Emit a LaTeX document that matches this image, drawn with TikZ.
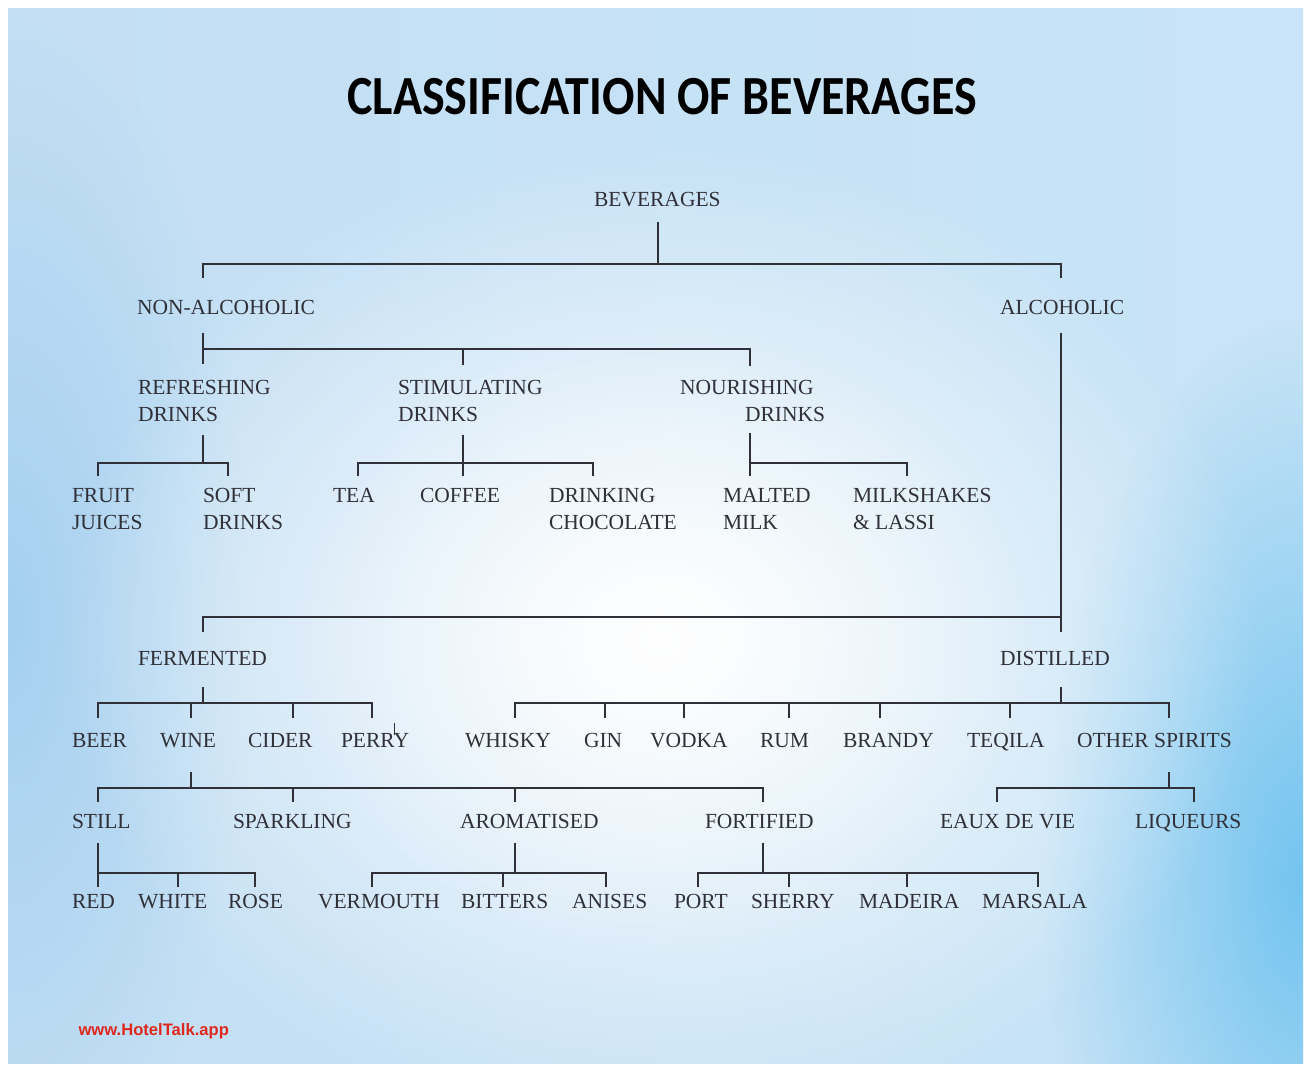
\documentclass[tikz,border=0pt]{standalone}
\usepackage{fontspec}
\setmainfont{Liberation Serif}
\newfontfamily\titlefont{Carlito}
\newfontfamily\webfont{Liberation Sans}
\usetikzlibrary{positioning}
\usetikzlibrary{fadings}

\definecolor{ink}{RGB}{48,48,56}
\definecolor{edgeblue}{RGB}{196,223,244}
\definecolor{midblue}{RGB}{234,243,251}
\definecolor{rightblue}{RGB}{200,228,246}
\definecolor{leftband}{RGB}{165,208,240}
\definecolor{rightband}{RGB}{115,196,240}
\definecolor{webred}{RGB}{222,40,30}

\tikzfading[name=glow, inner color=transparent!0, outer color=transparent!100]

\tikzset{
  label/.style={anchor=north west, inner sep=0pt, outer sep=0pt, align=left,
    text=ink, font=\fontsize{21.5}{27}\selectfont},
  link/.style={draw=ink, line width=1.8pt}
}

\begin{document}
\begin{tikzpicture}[x=1pt,y=-1pt]
            % background
            \useasboundingbox (0,0) rectangle (1311,1071);
            \fill[white] (0,0) rectangle (1311,1071);
            \begin{scope}
              \clip (8,8) rectangle (1303,1063);
              \shade[left color=edgeblue, middle color=midblue, right color=rightblue] (8,8) rectangle (1303,1063);
              \fill[leftband, path fading=glow] (8,620) ellipse (240 and 620);
              \fill[rightband, path fading=glow] (1303,880) ellipse (260 and 560);
              \fill[white, path fading=glow] (660,640) ellipse (600 and 500);
              \fill[white, opacity=0.5, path fading=glow] (660,640) ellipse (380 and 320);
            \end{scope}

            % title
            \node[text=black] (title) at (662,97) {\scalebox{1}[1.15]{\titlefont\bfseries\fontsize{48}{50}\selectfont CLASSIFICATION OF BEVERAGES}};
            \node[anchor=west, text=webred] (web) at (75,1031) {\webfont\bfseries\fontsize{16.6}{18}\selectfont www.HotelTalk.app};

            % labels
            \node[label] (bev) at (594,192) {BEVERAGES};
            \node[label] (nonalc) at (137,300) {NON-ALCOHOLIC};
            \node[label] (alc) at (1000,300) {ALCOHOLIC};
            \node[label] (refr) at (138,380) {REFRESHING\\DRINKS};
            \node[label] (stim) at (398,380) {STIMULATING\\DRINKS};
            \node[label] (nour) at (680,380) {NOURISHING\\\hspace*{65pt}DRINKS};
            \node[label] (fruit) at (72,488) {FRUIT\\JUICES};
            \node[label] (soft) at (203,488) {SOFT\\DRINKS};
            \node[label] (tea) at (333,488) {TEA};
            \node[label] (coffee) at (420,488) {COFFEE};
            \node[label] (choc) at (549,488) {DRINKING\\CHOCOLATE};
            \node[label] (malted) at (723,488) {MALTED\\MILK};
            \node[label] (shakes) at (853,488) {MILKSHAKES\\\& LASSI};
            \node[label] (ferm) at (138,651) {FERMENTED};
            \node[label] (dist) at (1000,651) {DISTILLED};
            \node[label] (beer) at (72,733) {BEER};
            \node[label] (wine) at (160,733) {WINE};
            \node[label] (cider) at (248,733) {CIDER};
            \node[label] (perry) at (341,733) {PERRY};
            \node[label] (whisky) at (465,733) {WHISKY};
            \node[label] (gin) at (584,733) {GIN};
            \node[label] (vodka) at (650,733) {VODKA};
            \node[label] (rum) at (760,733) {RUM};
            \node[label] (brandy) at (843,733) {BRANDY};
            \node[label] (teqila) at (967,733) {TEQILA};
            \node[label] (other) at (1077,733) {OTHER SPIRITS};
            \node[label] (still) at (72,814) {STILL};
            \node[label] (sparkling) at (233,814) {SPARKLING};
            \node[label] (arom) at (460,814) {AROMATISED};
            \node[label] (fort) at (705,814) {FORTIFIED};
            \node[label] (eaux) at (940,814) {EAUX DE VIE};
            \node[label] (liq) at (1135,814) {LIQUEURS};
            \node[label] (red) at (72,894) {RED};
            \node[label] (white) at (138,894) {WHITE};
            \node[label] (rose) at (228,894) {ROSE};
            \node[label] (vermouth) at (318,894) {VERMOUTH};
            \node[label] (bitters) at (461,894) {BITTERS};
            \node[label] (anises) at (572,894) {ANISES};
            \node[label] (port) at (674,894) {PORT};
            \node[label] (sherry) at (751,894) {SHERRY};
            \node[label] (madeira) at (859,894) {MADEIRA};
            \node[label] (marsala) at (982,894) {MARSALA};

            % connection points
            \coordinate (bev-o) at (658,222);  \coordinate (bev-j) at (658,264);
            \coordinate (nonalc-i) at (203,278); \coordinate (alc-i) at (1061,278);
            \coordinate (nonalc-o) at (203,333); \coordinate (nonalc-j) at (203,349);
            \coordinate (refr-i) at (203,364); \coordinate (stim-i) at (463,365); \coordinate (nour-i) at (750,366);
            \coordinate (refr-o) at (203,435); \coordinate (refr-j) at (203,463);
            \coordinate (fruit-i) at (98,476); \coordinate (soft-i) at (228,476);
            \coordinate (stim-o) at (463,435); \coordinate (stim-j) at (463,463);
            \coordinate (tea-i) at (358,476); \coordinate (coffee-i) at (463,476); \coordinate (choc-i) at (593,476);
            \coordinate (nour-o) at (750,433); \coordinate (nour-j) at (750,463);
            \coordinate (malted-i) at (750,476); \coordinate (shakes-i) at (907,476);
            \coordinate (alc-o) at (1061,333); \coordinate (alc-j) at (1061,617);
            \coordinate (ferm-i) at (203,632); \coordinate (dist-i) at (1061,632);
            \coordinate (ferm-o) at (203,687); \coordinate (ferm-j) at (203,703);
            \coordinate (beer-i) at (98,718); \coordinate (wine-i) at (191,718);
            \coordinate (cider-i) at (293,718); \coordinate (perry-i) at (372,718);
            \coordinate (dist-o) at (1061,687); \coordinate (dist-j) at (1061,703);
            \coordinate (whisky-i) at (515,718); \coordinate (gin-i) at (605,718); \coordinate (vodka-i) at (684,718);
            \coordinate (rum-i) at (789,718); \coordinate (brandy-i) at (880,718); \coordinate (teqila-i) at (1010,718);
            \coordinate (other-i) at (1169,718);
            \coordinate (wine-o) at (191,772); \coordinate (wine-j) at (191,788);
            \coordinate (still-i) at (98,802); \coordinate (sparkling-i) at (293,802);
            \coordinate (arom-i) at (515,802); \coordinate (fort-i) at (763,802);
            \coordinate (other-o) at (1169,772); \coordinate (other-j) at (1169,788);
            \coordinate (eaux-i) at (997,802); \coordinate (liq-i) at (1194,802);
            \coordinate (still-o) at (98,843); \coordinate (still-j) at (98,873);
            \coordinate (red-i) at (98,887); \coordinate (white-i) at (178,887); \coordinate (rose-i) at (255,887);
            \coordinate (arom-o) at (515,843); \coordinate (arom-j) at (515,873);
            \coordinate (vermouth-i) at (372,887); \coordinate (bitters-i) at (503,887); \coordinate (anises-i) at (606,887);
            \coordinate (fort-o) at (763,843); \coordinate (fort-j) at (763,873);
            \coordinate (port-i) at (698,887); \coordinate (sherry-i) at (789,887);
            \coordinate (madeira-i) at (907,887); \coordinate (marsala-i) at (1038,887);

            % branches
            \draw[link] (bev-o) -- (bev-j);
            \foreach \c in {nonalc,alc} \draw[link] (\c-i) |- (bev-j);
            \draw[link] (nonalc-o) -- (nonalc-j);
            \foreach \c in {refr,stim,nour} \draw[link] (\c-i) |- (nonalc-j);
            \draw[link] (refr-o) -- (refr-j);
            \foreach \c in {fruit,soft} \draw[link] (\c-i) |- (refr-j);
            \draw[link] (stim-o) -- (stim-j);
            \foreach \c in {tea,coffee,choc} \draw[link] (\c-i) |- (stim-j);
            \draw[link] (nour-o) -- (nour-j);
            \foreach \c in {malted,shakes} \draw[link] (\c-i) |- (nour-j);
            \draw[link] (alc-o) -- (alc-j);
            \foreach \c in {ferm,dist} \draw[link] (\c-i) |- (alc-j);
            \draw[link] (ferm-o) -- (ferm-j);
            \foreach \c in {beer,wine,cider,perry} \draw[link] (\c-i) |- (ferm-j);
            \draw[link] (dist-o) -- (dist-j);
            \foreach \c in {whisky,gin,vodka,rum,brandy,teqila,other} \draw[link] (\c-i) |- (dist-j);
            \draw[link] (wine-o) -- (wine-j);
            \foreach \c in {still,sparkling,arom,fort} \draw[link] (\c-i) |- (wine-j);
            \draw[link] (other-o) -- (other-j);
            \foreach \c in {eaux,liq} \draw[link] (\c-i) |- (other-j);
            \draw[link] (still-o) -- (still-j);
            \foreach \c in {red,white,rose} \draw[link] (\c-i) |- (still-j);
            \draw[link] (arom-o) -- (arom-j);
            \foreach \c in {vermouth,bitters,anises} \draw[link] (\c-i) |- (arom-j);
            \draw[link] (fort-o) -- (fort-j);
            \foreach \c in {port,sherry,madeira,marsala} \draw[link] (\c-i) |- (fort-j);
            \draw[link, line width=1pt] ([xshift=53pt,yshift=10pt]perry.north west) -- ++(0,12);
\end{tikzpicture}
\end{document}
